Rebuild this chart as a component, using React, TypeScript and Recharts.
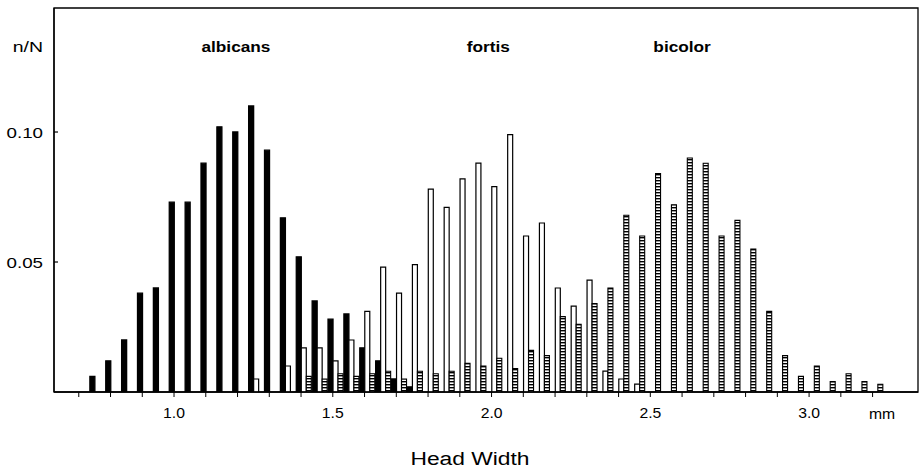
import React from 'react';
import { BarChart, Bar, XAxis, YAxis, ReferenceArea, ReferenceLine, Label } from 'recharts';

// Head width classes (mm, class mid-points, 0.05 mm wide)
const binMid = [
  0.76, 0.81, 0.86, 0.91, 0.96, 1.01, 1.06, 1.11, 1.16, 1.21,
  1.26, 1.31, 1.36, 1.41, 1.46, 1.51, 1.56, 1.61, 1.66, 1.71,
  1.76, 1.81, 1.86, 1.91, 1.96, 2.01, 2.06, 2.11, 2.16, 2.21,
  2.26, 2.31, 2.36, 2.41, 2.46, 2.51, 2.56, 2.61, 2.66, 2.71,
  2.76, 2.81, 2.86, 2.91, 2.96, 3.01, 3.06, 3.11, 3.16, 3.21,
];

// Relative frequencies n/N per class
const albicans = [
  0.006, 0.012, 0.020, 0.038, 0.040, 0.073, 0.073, 0.088, 0.102, 0.100,
  0.110, 0.093, 0.067, 0.052, 0.035, 0.028, 0.030, 0.017, 0.012, 0.005,
  0.002, 0, 0, 0, 0, 0, 0, 0, 0, 0,
  0, 0, 0, 0, 0, 0, 0, 0, 0, 0,
  0, 0, 0, 0, 0, 0, 0, 0, 0, 0,
];

const fortis = [
  0, 0, 0, 0, 0, 0, 0, 0, 0, 0,
  0.005, 0, 0.010, 0.017, 0.017, 0.012, 0.020, 0.031, 0.048, 0.038,
  0.049, 0.078, 0.071, 0.082, 0.088, 0.079, 0.099, 0.060, 0.065, 0.040,
  0.033, 0.043, 0.008, 0.005, 0.003, 0, 0, 0, 0, 0,
  0, 0, 0, 0, 0, 0, 0, 0, 0, 0,
];

const bicolor = [
  0, 0, 0, 0, 0, 0, 0, 0, 0, 0,
  0, 0, 0, 0.006, 0.005, 0.007, 0.006, 0.007, 0.008, 0.005,
  0.008, 0.007, 0.008, 0.011, 0.010, 0.013, 0.009, 0.016, 0.014, 0.029,
  0.026, 0.034, 0.040, 0.068, 0.060, 0.084, 0.072, 0.090, 0.088, 0.060,
  0.066, 0.055, 0.031, 0.014, 0.006, 0.010, 0.004, 0.007, 0.004, 0.003,
];

const xTicks = [0.7, 0.8, 0.9, 1.0, 1.1, 1.2, 1.3, 1.4, 1.5, 1.6, 1.7, 1.8, 1.9, 2.0, 2.1, 2.2, 2.3, 2.4, 2.5, 2.6, 2.7, 2.8, 2.9, 3.0, 3.1, 3.2];
const xLabelled = [1.0, 1.5, 2.0, 2.5, 3.0];
const yTicks = [0.05, 0.1];

const speciesLabels = [
  { name: 'albicans', at: 1.195 },
  { name: 'fortis', at: 1.99 },
  { name: 'bicolor', at: 2.6 },
];

const xDomain: [number, number] = [0.622, 3.343];
const yDomain: [number, number] = [0, 0.1477];

const rows = binMid.map((mid, i) => ({
  mid,
  albicans: albicans[i],
  fortis: fortis[i],
  bicolor: bicolor[i],
}));

const FONT = '"Liberation Sans", Arial, Helvetica, sans-serif';

function Txt(props: {
  x: number;
  y: number;
  children: React.ReactNode;
  anchor?: 'start' | 'middle' | 'end';
  size?: number;
  weight?: number;
  sx?: number;
}) {
  const { x, y, children, anchor = 'middle', size = 15, weight = 400, sx = 1 } = props;
  return (
    <text
      transform={`translate(${x},${y}) scale(${sx},1)`}
      textAnchor={anchor}
      fontFamily={FONT}
      fontSize={size}
      fontWeight={weight}
      fill="#000"
    >
      {children}
    </text>
  );
}

const XTick = (props: any) => {
  const { x, y, payload } = props;
  const v = Math.round(payload.value * 10) / 10;
  if (!xLabelled.includes(v)) return <g />;
  return (
    <Txt x={x} y={y + 21} size={15} sx={1.05}>
      {v.toFixed(1)}
    </Txt>
  );
};

const YTick = (props: any) => {
  const { x, y, payload } = props;
  return (
    <g>
      <line x1={x} x2={x + 4} y1={y} y2={y} stroke="#000" strokeWidth={1.2} />
      <Txt x={x - 11} y={y + 5.5} anchor="end" size={15} sx={1.25}>
        {payload.value.toFixed(2)}
      </Txt>
    </g>
  );
};

export default function App() {
  return (
    <div style={{ position: 'absolute', left: 0, top: 0, width: 920, height: 476, background: '#fff' }}>
      <BarChart
        width={920}
        height={476}
        data={rows}
        margin={{ top: 8, right: 2, left: 0, bottom: 0 }}
        barGap={0}
      >
        <defs>
          <pattern id="hatch" width={6} height={3} patternUnits="userSpaceOnUse">
            <rect x={0} y={0} width={6} height={3} fill="#fff" />
            <rect x={0} y={0} width={6} height={1.4} fill="#000" />
          </pattern>
        </defs>
        <ReferenceArea
          x1={xDomain[0]}
          x2={xDomain[1]}
          y1={yDomain[0]}
          y2={yDomain[1]}
          fill="none"
          stroke="#000"
          strokeWidth={1.3}
          ifOverflow="visible"
        />
        <XAxis
          type="number"
          dataKey="mid"
          domain={xDomain}
          allowDataOverflow
          ticks={xTicks}
          interval={0}
          height={84}
          tickSize={5}
          tickMargin={0}
          stroke="#000"
          axisLine={{ stroke: '#000', strokeWidth: 1.6 }}
          tickLine={{ stroke: '#000', strokeWidth: 1 }}
          tick={<XTick />}
        >
          <Label
            content={(p: any) => (
              <Txt x={p.viewBox.x + p.viewBox.width - 36} y={p.viewBox.y + 27} size={15} sx={1.05}>
                mm
              </Txt>
            )}
          />
          <Label
            content={(p: any) => (
              <Txt x={p.viewBox.x + p.viewBox.width / 2 - 16} y={p.viewBox.y + 73} size={19} sx={1.2}>
                Head Width
              </Txt>
            )}
          />
        </XAxis>
        <YAxis
          type="number"
          domain={yDomain}
          allowDataOverflow
          ticks={yTicks}
          width={54}
          tickSize={0}
          tickMargin={0}
          tickLine={false}
          axisLine={{ stroke: '#000', strokeWidth: 1.3 }}
          tick={<YTick />}
        >
          <Label
            content={(p: any) => (
              <Txt x={p.viewBox.x + 43} y={p.viewBox.y + 44} anchor="end" size={15} sx={1.3}>
                n/N
              </Txt>
            )}
          />
        </YAxis>
        {speciesLabels.map((s) => (
          <ReferenceLine
            key={s.name}
            x={s.at}
            stroke="none"
            label={{
              content: (p: any) => (
                <Txt x={p.viewBox.x} y={p.viewBox.y + 44} size={15} weight={700} sx={1.15}>
                  {s.name}
                </Txt>
              ),
            }}
          />
        ))}
        <Bar dataKey="albicans" barSize={5} fill="#000" stroke="#000" strokeWidth={1.3} isAnimationActive={false} />
        <Bar dataKey="fortis" barSize={5} fill="#fff" stroke="#000" strokeWidth={1.2} isAnimationActive={false} />
        <Bar dataKey="bicolor" barSize={5} fill="url(#hatch)" stroke="#000" strokeWidth={1.1} isAnimationActive={false} />
      </BarChart>
    </div>
  );
}
